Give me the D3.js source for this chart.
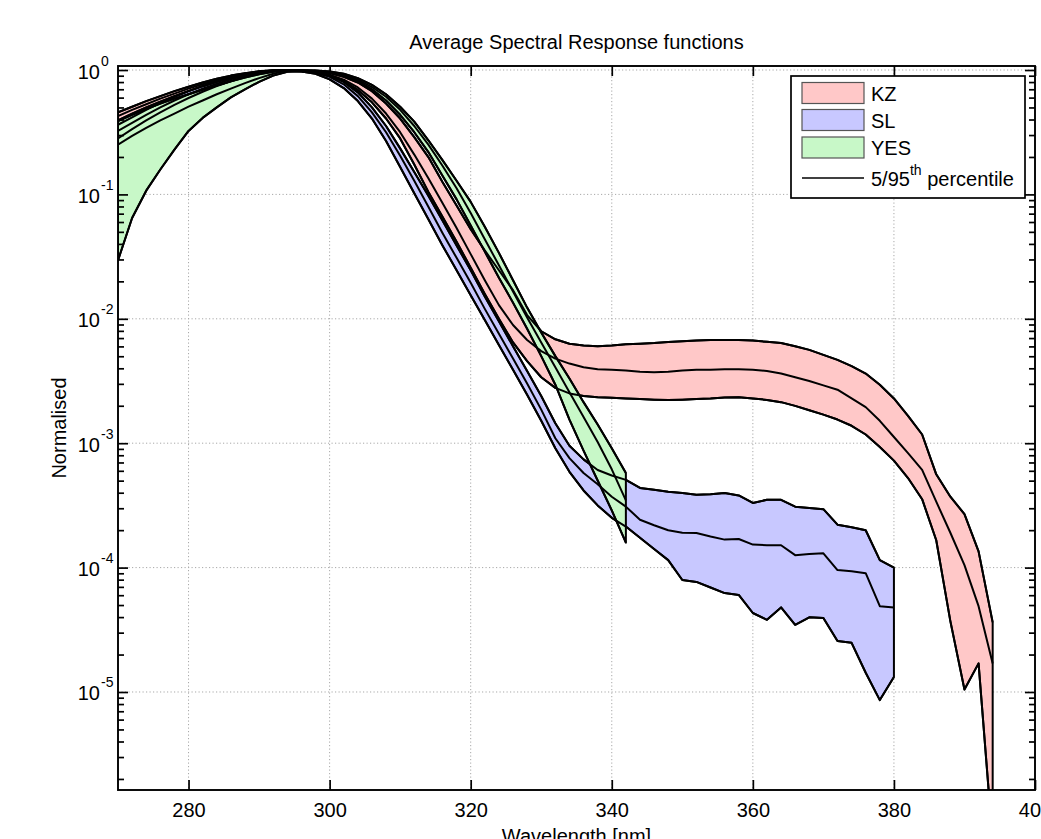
<!DOCTYPE html>
<html>
<head>
<meta charset="utf-8">
<script src="https://cdn.jsdelivr.net/npm/d3@7"></script>
<style>
  html, body { margin: 0; padding: 0; background: #fff; overflow: hidden; }
  svg { display: block; }
  text { font-family: "Liberation Sans", Arial, Helvetica, sans-serif; fill: #000; }
</style>
</head>
<body>
<svg id="chart" width="1041" height="839"></svg>
<script>
// ---------------- DATA (log10 of normalised response) ----------------
const wavelengths = [270,272,274,276,278,280,282,284,286,288,290,292,294,296,298,300,302,304,306,308,
  310,312,314,316,318,320,322,324,326,328,330,332,334,336,338,340,342,344,346,348,
  350,352,354,356,358,360,362,364,366,368,370,372,374,376,378,380,382,384,386,388,390,392,394];

const seriesNames = ["KZ", "SL", "YES"];
const seriesColors = ["#ffc8c8", "#c8c8ff", "#c8f8c8"];
const percentileLabel = "5/95";

// KZ (270-394 nm)
const kzUpperLog = [-0.34,-0.295,-0.25,-0.21,-0.17,-0.135,-0.10,-0.07,-0.045,-0.025,-0.01,-0.002,0,
  -0.003,-0.01,-0.025,-0.055,-0.10,-0.17,-0.27,-0.39,-0.54,-0.70,-0.90,-1.09,-1.28,-1.45,-1.61,-1.77,-1.97,
  -2.10,-2.165,-2.20,-2.215,-2.22,-2.215,-2.205,-2.20,-2.195,-2.187,-2.18,-2.175,-2.17,-2.17,-2.17,
  -2.175,-2.185,-2.195,-2.22,-2.25,-2.29,-2.33,-2.38,-2.44,-2.53,-2.64,-2.78,-2.93,-3.25,-3.43,-3.57,-3.87,-4.44];
const kzMidLog = [-0.37,-0.32,-0.275,-0.23,-0.19,-0.15,-0.115,-0.082,-0.054,-0.03,-0.013,-0.004,0,
  -0.006,-0.016,-0.038,-0.078,-0.14,-0.23,-0.35,-0.50,-0.68,-0.87,-1.07,-1.27,-1.48,-1.69,-1.89,-2.05,-2.17,
  -2.26,-2.32,-2.36,-2.39,-2.405,-2.41,-2.415,-2.425,-2.43,-2.425,-2.415,-2.41,-2.41,-2.405,-2.405,
  -2.41,-2.42,-2.44,-2.47,-2.50,-2.535,-2.57,-2.64,-2.71,-2.82,-2.95,-3.08,-3.215,-3.47,-3.72,-3.98,-4.31,-4.77];
const kzLowerLog = [-0.405,-0.35,-0.30,-0.255,-0.21,-0.17,-0.13,-0.095,-0.064,-0.037,-0.017,-0.006,-0.001,
  -0.008,-0.02,-0.045,-0.09,-0.16,-0.26,-0.39,-0.55,-0.76,-0.98,-1.18,-1.38,-1.59,-1.80,-2.00,-2.19,-2.34,
  -2.47,-2.555,-2.60,-2.62,-2.63,-2.635,-2.64,-2.645,-2.65,-2.653,-2.65,-2.645,-2.64,-2.632,-2.63,
  -2.64,-2.652,-2.67,-2.70,-2.735,-2.77,-2.81,-2.86,-2.93,-3.03,-3.14,-3.28,-3.45,-3.78,-4.43,-4.98,-4.77,-6.2];

// SL (270-380 nm)
const slUpperLog = [-0.44,-0.38,-0.32,-0.265,-0.215,-0.17,-0.13,-0.095,-0.062,-0.035,-0.015,-0.004,0,
  -0.005,-0.018,-0.045,-0.095,-0.18,-0.30,-0.45,-0.63,-0.82,-1.01,-1.21,-1.41,-1.61,-1.82,-2.02,-2.22,-2.42,
  -2.62,-2.84,-3.02,-3.13,-3.215,-3.26,-3.295,-3.36,-3.375,-3.39,-3.40,-3.415,-3.41,-3.40,-3.42,
  -3.48,-3.455,-3.455,-3.51,-3.52,-3.53,-3.655,-3.675,-3.70,-3.94,-4.00];
const slMidLog = [-0.49,-0.425,-0.36,-0.30,-0.245,-0.195,-0.15,-0.11,-0.075,-0.045,-0.022,-0.007,-0.002,
  -0.008,-0.022,-0.055,-0.115,-0.21,-0.34,-0.50,-0.69,-0.89,-1.10,-1.31,-1.51,-1.71,-1.92,-2.12,-2.32,-2.52,
  -2.73,-2.96,-3.12,-3.24,-3.33,-3.43,-3.51,-3.615,-3.66,-3.70,-3.72,-3.722,-3.75,-3.775,-3.77,
  -3.815,-3.82,-3.82,-3.90,-3.89,-3.885,-4.02,-4.03,-4.045,-4.31,-4.32];
const slLowerLog = [-0.55,-0.475,-0.405,-0.34,-0.28,-0.225,-0.175,-0.13,-0.09,-0.055,-0.028,-0.01,-0.005,
  -0.012,-0.03,-0.075,-0.145,-0.25,-0.39,-0.57,-0.78,-0.99,-1.20,-1.41,-1.61,-1.81,-2.01,-2.21,-2.41,-2.61,
  -2.82,-3.04,-3.23,-3.38,-3.50,-3.60,-3.67,-3.76,-3.85,-3.94,-4.10,-4.115,-4.16,-4.205,-4.22,
  -4.365,-4.42,-4.32,-4.46,-4.40,-4.405,-4.59,-4.605,-4.845,-5.065,-4.88];

// YES (270-342 nm)
const yesUpperLog = [-0.41,-0.36,-0.315,-0.27,-0.23,-0.195,-0.16,-0.125,-0.09,-0.06,-0.035,-0.015,0,
  -0.002,-0.004,-0.012,-0.03,-0.065,-0.12,-0.195,-0.295,-0.415,-0.565,-0.725,-0.89,-1.06,-1.26,-1.47,-1.69,-1.91,
  -2.11,-2.30,-2.48,-2.67,-2.85,-3.04,-3.24];
const yesMidLog = [-0.60,-0.53,-0.465,-0.405,-0.35,-0.295,-0.245,-0.195,-0.15,-0.105,-0.065,-0.03,-0.005,
  -0.004,-0.006,-0.016,-0.038,-0.077,-0.137,-0.215,-0.32,-0.45,-0.60,-0.77,-0.95,-1.15,-1.36,-1.57,-1.78,-1.99,
  -2.19,-2.39,-2.59,-2.79,-2.99,-3.21,-3.46];
const yesLowerLog = [-1.53,-1.19,-0.97,-0.80,-0.64,-0.49,-0.385,-0.30,-0.22,-0.155,-0.095,-0.045,-0.015,
  -0.01,-0.008,-0.02,-0.045,-0.09,-0.155,-0.245,-0.36,-0.50,-0.66,-0.85,-1.04,-1.25,-1.46,-1.67,-1.87,-2.08,
  -2.30,-2.53,-2.81,-3.06,-3.30,-3.54,-3.80];

const xTickValues = [280, 300, 320, 340, 360, 380, 400];
const yMajorTicks = [1, 1e-1, 1e-2, 1e-3, 1e-4, 1e-5];
const yDomain = [1.63e-6, 1.077];
const xDomain = [270, 400];

// ---------------- BUILD ----------------
function build(lo, mid, hi) {
  return lo.map((v, i) => ({ w: wavelengths[i], lo: Math.pow(10, v), mid: Math.pow(10, mid[i]), hi: Math.pow(10, hi[i]) }));
}
const series = [
  build(kzLowerLog, kzMidLog, kzUpperLog),
  build(slLowerLog, slMidLog, slUpperLog),
  build(yesLowerLog, yesMidLog, yesUpperLog)
];

const FS = 20;
const L = 118, R = 1035, T = 66, B = 790;
const svg = d3.select("#chart");
const x = d3.scaleLinear().domain(xDomain).range([L, R]);
const y = d3.scaleLog().domain(yDomain).range([B, T]);

svg.append("defs").append("clipPath").attr("id", "plotclip")
  .append("rect").attr("x", L).attr("y", T).attr("width", R - L).attr("height", B - T);

// grid
const grid = svg.append("g").attr("stroke", "#a8a8a8").attr("stroke-width", 1).attr("stroke-dasharray", "1.2,2.3");
xTickValues.filter(v => v < xDomain[1]).forEach(v => {
  grid.append("line").attr("x1", x(v)).attr("x2", x(v)).attr("y1", T).attr("y2", B);
});
yMajorTicks.forEach(v => {
  grid.append("line").attr("x1", L).attr("x2", R).attr("y1", y(v)).attr("y2", y(v));
});

// data
const plot = svg.append("g").attr("clip-path", "url(#plotclip)");
const area = d3.area().x(d => x(d.w)).y0(d => y(d.lo)).y1(d => y(d.hi));
const lineLo = d3.line().x(d => x(d.w)).y(d => y(d.lo));
const lineMid = d3.line().x(d => x(d.w)).y(d => y(d.mid));
const lineHi = d3.line().x(d => x(d.w)).y(d => y(d.hi));

series.forEach((s, i) => {
  plot.append("path").attr("d", area(s)).attr("fill", seriesColors[i])
    .attr("stroke", "#000").attr("stroke-width", 2).attr("stroke-linejoin", "round");
});
series.forEach(s => {
  [lineLo, lineMid, lineHi].forEach(g => {
    plot.append("path").attr("d", g(s)).attr("fill", "none")
      .attr("stroke", "#000").attr("stroke-width", 2).attr("stroke-linejoin", "round");
  });
});

// axes
const yMinor = y.ticks(10).filter(v => Math.abs(Math.log10(v) - Math.round(Math.log10(v))) > 1e-6);
function styleAxis(g) {
  g.select(".domain").remove();
  g.selectAll(".tick line").attr("stroke", "#000").attr("stroke-width", 1.7);
}
svg.append("g").attr("transform", `translate(0,${B})`)
  .call(d3.axisBottom(x).tickValues(xTickValues).tickSize(-10).tickPadding(13).tickFormat(d3.format("d")))
  .call(styleAxis)
  .call(g => g.selectAll("text").attr("font-size", FS).attr("font-family", "Liberation Sans, Arial, sans-serif"));
svg.append("g").attr("transform", `translate(0,${T})`)
  .call(d3.axisTop(x).tickValues(xTickValues).tickSize(-10).tickFormat(""))
  .call(styleAxis);
svg.append("g").attr("transform", `translate(${L},0)`)
  .call(d3.axisLeft(y).tickValues(yMajorTicks).tickSize(-10).tickFormat(""))
  .call(styleAxis);
svg.append("g").attr("transform", `translate(${L},0)`)
  .call(d3.axisLeft(y).tickValues(yMinor).tickSize(-6).tickFormat(""))
  .call(styleAxis);
svg.append("g").attr("transform", `translate(${R},0)`)
  .call(d3.axisRight(y).tickValues(yMajorTicks).tickSize(-10).tickFormat(""))
  .call(styleAxis);
svg.append("g").attr("transform", `translate(${R},0)`)
  .call(d3.axisRight(y).tickValues(yMinor).tickSize(-6).tickFormat(""))
  .call(styleAxis);

// y tick labels 10^n
yMajorTicks.forEach(v => {
  const e = Math.round(Math.log10(v));
  svg.append("text").attr("x", 100).attr("y", y(v) + 8.5).attr("text-anchor", "end")
    .attr("font-size", FS).text("10");
  svg.append("text").attr("x", 101).attr("y", y(v) - 4.5).attr("text-anchor", "start")
    .attr("font-size", 14).text(String(e));
});

// box
svg.append("rect").attr("x", L).attr("y", T).attr("width", R - L).attr("height", B - T)
  .attr("fill", "none").attr("stroke", "#000").attr("stroke-width", 1.9);

// title and labels
svg.append("text").attr("x", (L + R) / 2).attr("y", 49).attr("text-anchor", "middle")
  .attr("font-size", FS).text("Average Spectral Response functions");
svg.append("text").attr("transform", `translate(66,${(T + B) / 2}) rotate(-90)`).attr("text-anchor", "middle")
  .attr("font-size", FS).text("Normalised");
svg.append("text").attr("x", (L + R) / 2).attr("y", 843).attr("text-anchor", "middle")
  .attr("font-size", FS).text("Wavelength [nm]");

// legend
const lg = svg.append("g");
lg.append("rect").attr("x", 791).attr("y", 76).attr("width", 234).attr("height", 122)
  .attr("fill", "#fff").attr("stroke", "#000").attr("stroke-width", 1.7);
const rowY = [93, 120, 147.5];
seriesNames.forEach((n, i) => {
  lg.append("rect").attr("x", 802).attr("y", rowY[i] - 10.5).attr("width", 62).attr("height", 21)
    .attr("fill", seriesColors[i]).attr("stroke", "#555").attr("stroke-width", 1.2);
  lg.append("text").attr("x", 871).attr("y", rowY[i] + 7.5).attr("font-size", FS).text(n);
});
lg.append("line").attr("x1", 802).attr("x2", 864).attr("y1", 178).attr("y2", 178)
  .attr("stroke", "#000").attr("stroke-width", 1.7);
const pt = lg.append("text").attr("x", 871).attr("y", 186).attr("font-size", FS);
pt.append("tspan").text(percentileLabel);
pt.append("tspan").attr("dy", -11).attr("font-size", 14).text("th");
pt.append("tspan").attr("dy", 11).text(" percentile");
</script>
</body>
</html>
